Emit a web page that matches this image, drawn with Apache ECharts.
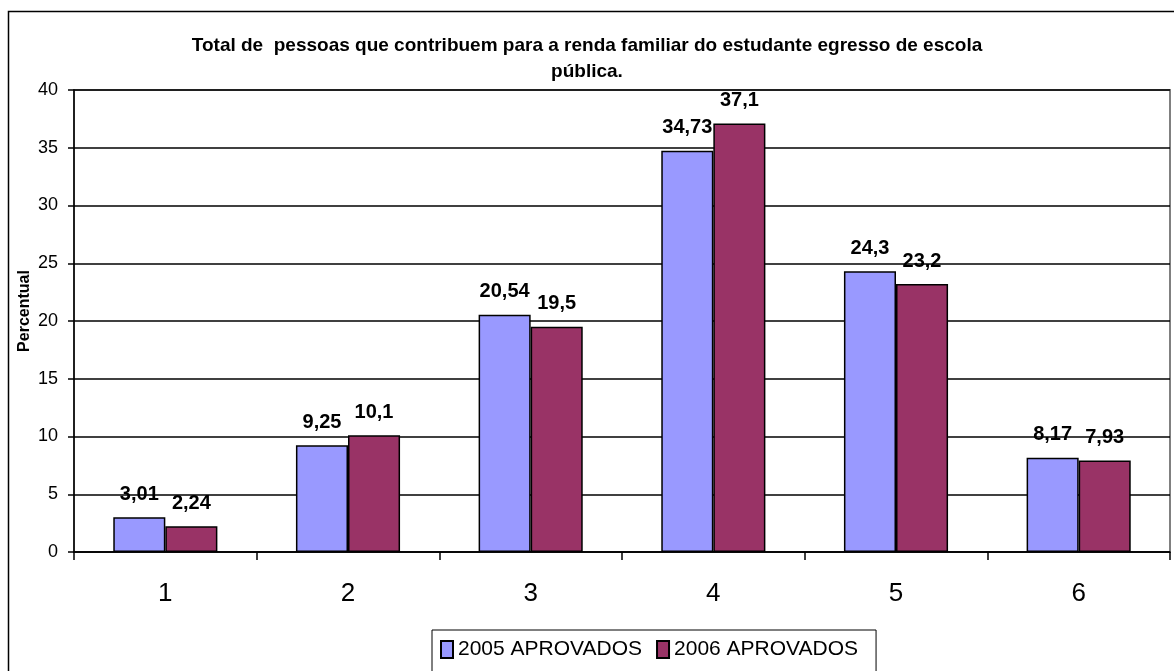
<!DOCTYPE html>
<html>
<head>
<meta charset="utf-8">
<title>Total de pessoas</title>
<script src="https://cdn.jsdelivr.net/npm/echarts@6/dist/echarts.min.js"></script>
<style>
  html, body { margin: 0; padding: 0; background: #fff; }
  #chart { width: 1174px; height: 671px; }
</style>
</head>
<body>
<div id="chart"></div>
<script>
const categories = ['1', '2', '3', '4', '5', '6']
const aprovados2005 = [3.01, 9.25, 20.54, 34.73, 24.3, 8.17]
const aprovados2006 = [2.24, 10.1, 19.5, 37.1, 23.2, 7.93]
const seriesNames = ['2005 APROVADOS', '2006 APROVADOS']

const chart = echarts.init(document.getElementById('chart'))

const labelOpt = {
  show: true,
  position: 'top',
  distance: 13,
  color: '#000',
  fontFamily: 'Arial, "Liberation Sans", sans-serif',
  fontWeight: 'bold',
  fontSize: 20,
  formatter: p => String(p.value).replace('.', ',')
}

chart.setOption({
  animation: false,
  textStyle: { fontFamily: 'Arial, "Liberation Sans", sans-serif' },
  title: {
    text: 'Total de  pessoas que contribuem para a renda familiar do estudante egresso de escola\npública.',
    left: 582,
    textAlign: 'center',
    top: 28,
    textStyle: {
      fontSize: 19,
      fontWeight: 'bold',
      color: '#000',
      lineHeight: 26
    }
  },
  graphic: [{
    type: 'rect',
    shape: { x: 8.5, y: 11.5, width: 1170, height: 670 },
    style: { fill: 'none', stroke: '#000', lineWidth: 1.5 },
    silent: true
  }, {
    type: 'rect',
    shape: { x: 74, y: 90, width: 1096, height: 462 },
    style: { fill: 'none', stroke: '#808080', lineWidth: 2 },
    silent: true,
    z: 0
  }],
  legend: {
    data: seriesNames,
    top: 630,
    left: 432,
    itemWidth: 12,
    itemHeight: 17,
    itemGap: 14,
    icon: 'rect',
    padding: [9, 18, 14, 8],
    borderColor: '#000',
    borderWidth: 1,
    textStyle: { fontSize: 21, color: '#000' }
  },
  grid: {
    left: 74,
    right: 4,
    top: 90,
    bottom: 119
  },
  xAxis: {
    type: 'category',
    data: categories,
    axisLine: { lineStyle: { color: '#000', width: 1.5 } },
    axisTick: { show: true, inside: false, length: 8, lineStyle: { color: '#000', width: 1.5 } },
    axisLabel: { fontSize: 26, color: '#000', margin: 29 }
  },
  yAxis: {
    type: 'value',
    name: 'Percentual',
    nameLocation: 'middle',
    nameGap: 41,
    nameMoveOverlap: false,
    nameTextStyle: { fontWeight: 'bold', fontSize: 16, color: '#000', padding: [0, 0, 0, 20] },
    min: 0,
    max: 40,
    interval: 5,
    axisLine: { show: true, lineStyle: { color: '#000', width: 1.5 } },
    axisTick: { show: true, length: 6, lineStyle: { color: '#000', width: 1.5 } },
    axisLabel: { fontSize: 18, color: '#000', margin: 16 },
    splitLine: { lineStyle: { color: '#000', width: 1.5 } }
  },
  series: [
    {
      name: seriesNames[0],
      type: 'bar',
      data: aprovados2005,
      barGap: '0%',
      barCategoryGap: '43%',
      itemStyle: { color: '#9999FF', borderColor: '#000', borderWidth: 1.5 },
      label: labelOpt
    },
    {
      name: seriesNames[1],
      type: 'bar',
      data: aprovados2006,
      itemStyle: { color: '#993366', borderColor: '#000', borderWidth: 1.5 },
      label: labelOpt
    }
  ]
})
</script>
</body>
</html>
